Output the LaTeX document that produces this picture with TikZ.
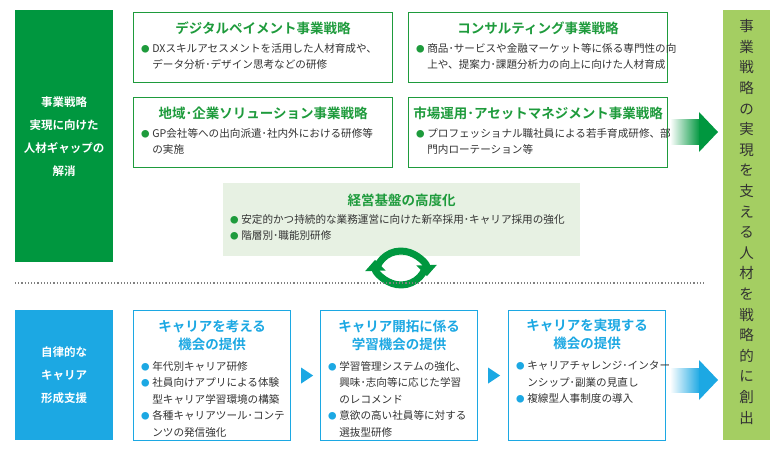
\documentclass[tikz,border=0pt]{standalone}
\usepackage{fontspec}
\setmainfont{Noto Sans CJK JP}[BoldFont={Noto Sans CJK JP Bold}]
\usetikzlibrary{positioning,arrows.meta}
\definecolor{dgreen}{HTML}{00973F}
\definecolor{tgreen}{HTML}{1E9B3C}
\definecolor{lgreen}{HTML}{E7F1E3}
\definecolor{cgreen}{HTML}{A4CE62}
\definecolor{sblue}{HTML}{1CA8E3}
\definecolor{txt}{HTML}{333333}
\newcommand{\bl}[1]{\makebox[1.05em][l]{\textcolor{#1}{\scalebox{0.8}{●}}}}
\newcommand{\ind}{\hspace*{1.05em}}
\tikzset{
  sbox/.style={draw=#1, line width=1.1pt, fill=white, anchor=north west, inner sep=0pt},
  gbox/.style={sbox=tgreen, minimum width=259pt, minimum height=70pt},
  bbox/.style={sbox=sblue, minimum width=157pt, minimum height=130pt},
  side/.style={fill=#1, anchor=north west, minimum width=98pt, text=white, font=\fontsize{11.5}{23}\selectfont\bfseries, align=center},
  ttl/.style={text=#1, font=\fontsize{13.5}{18}\selectfont\bfseries, align=center},
  body/.style={text=txt, font=\fontsize{10.6}{16.5}\selectfont, align=left, anchor=north west, inner sep=0pt},
}
\begin{document}
\begin{tikzpicture}[x=1pt,y=-1pt]
\useasboundingbox (0,0) rectangle (780,460);

%% left side %%
\node[side=dgreen, minimum height=252pt] (s1) at (15,10) {事業戦略\\実現に向けた\\人材ギャップの\\解消};
\node[side=sblue, minimum height=130pt] (s2) at (15,310) {自律的な\\キャリア\\形成支援};

%% strategy boxes %%
\node[gbox] (g1) at (133,12) {};
\node[gbox] (g2) at (408,12) {};
\node[gbox] (g3) at (133,97) {};
\node[gbox] (g4) at (408,97) {};
\node[ttl=tgreen, below=6pt of g1.north] {デジタルペイメント事業戦略};
\node[ttl=tgreen, below=6pt of g2.north] {コンサルティング事業戦略};
\node[ttl=tgreen, below=6pt of g3.north] {地域･企業ソリューション事業戦略};
\node[ttl=tgreen, below=6pt of g4.north] {市場運用･アセットマネジメント事業戦略};
\node[body] at ([shift={(8,31)}]g1.north west) {\bl{tgreen}DXスキルアセスメントを活用した人材育成や、\\\ind データ分析･デザイン思考などの研修};
\node[body] at ([shift={(8,31)}]g2.north west) {\bl{tgreen}商品･サービスや金融マーケット等に係る専門性の向\\\ind 上や、提案力･課題分析力の向上に向けた人材育成};
\node[body] at ([shift={(8,31)}]g3.north west) {\bl{tgreen}GP会社等への出向派遣･社内外における研修等\\\ind の実施};
\node[body] at ([shift={(8,31)}]g4.north west) {\bl{tgreen}プロフェッショナル職社員による若手育成研修、部\\\ind 門内ローテーション等};

%% base %%
\node[fill=lgreen, anchor=north west, minimum width=357pt, minimum height=73pt] (base) at (223,183) {};
\node[ttl=tgreen, below=7pt of base.north] {経営基盤の高度化};
\node[body] at ([shift={(7,31)}]base.north west) {\bl{tgreen}安定的かつ持続的な業務運営に向けた新卒採用･キャリア採用の強化\\\bl{tgreen}階層別･職能別研修};

%% cycle %%
\coordinate (cc) at (401,268);
\draw[dgreen, line width=7pt, -{Triangle[length=11pt,width=20pt]}] ([shift={(-10:26)}]cc) arc[start angle=10, end angle=178, radius=26];
\draw[dgreen, line width=7pt, -{Triangle[length=11pt,width=20pt]}] ([shift={(170:26)}]cc) arc[start angle=190, end angle=358, radius=26];

\draw[gray, line width=1.2pt, dotted] (15,283) -- (705,283);

%% career boxes %%
\node[bbox] (b1) at (133,310) {};
\node[bbox] (b2) at (320,310) {};
\node[bbox] (b3) at (508,310) {};
\node[ttl=sblue, below=6pt of b1.north] {キャリアを考える\\機会の提供};
\node[ttl=sblue, below=6pt of b2.north] {キャリア開拓に係る\\学習機会の提供};
\node[ttl=sblue, below=6pt of b3.north] {キャリアを実現する\\機会の提供};
\node[body] at ([shift={(8,51)}]b1.north west) {\bl{sblue}年代別キャリア研修\\\bl{sblue}社員向けアプリによる体験\\\ind 型キャリア学習環境の構築\\\bl{sblue}各種キャリアツール･コンテ\\\ind ンツの発信強化};
\node[body] at ([shift={(8,51)}]b2.north west) {\bl{sblue}学習管理システムの強化、\\\ind 興味･志向等に応じた学習\\\ind のレコメンド\\\bl{sblue}意欲の高い社員等に対する\\\ind 選抜型研修};
\node[body] at ([shift={(8,51)}]b3.north west) {\bl{sblue}キャリアチャレンジ･インター\\\ind ンシップ･副業の見直し\\\bl{sblue}複線型人事制度の導入};
\fill[sblue] ([shift={(10,-8)}]b1.east) -- ([shift={(22,0)}]b1.east) -- ([shift={(10,8)}]b1.east) -- cycle;
\fill[sblue] ([shift={(10,-8)}]b2.east) -- ([shift={(22,0)}]b2.east) -- ([shift={(10,8)}]b2.east) -- cycle;

%% right column %%
\node[fill=cgreen, anchor=north west, minimum width=47pt, minimum height=430pt] (goal) at (723,10) {};
\node[text=txt, font=\fontsize{14.5}{20.6}\selectfont, align=center, below=6pt of goal.north] {事\\業\\戦\\略\\の\\実\\現\\を\\支\\え\\る\\人\\材\\を\\戦\\略\\的\\に\\創\\出};

%% big arrows %%
\shade[left color=white, right color=dgreen] (670,120) rectangle (700,144);
\fill[dgreen] (699,112) -- (718,132) -- (699,152) -- cycle;
\shade[left color=white, right color=sblue] (670,368) rectangle (700,392);
\fill[sblue] (699,360) -- (718,380) -- (699,400) -- cycle;
\end{tikzpicture}
\end{document}
